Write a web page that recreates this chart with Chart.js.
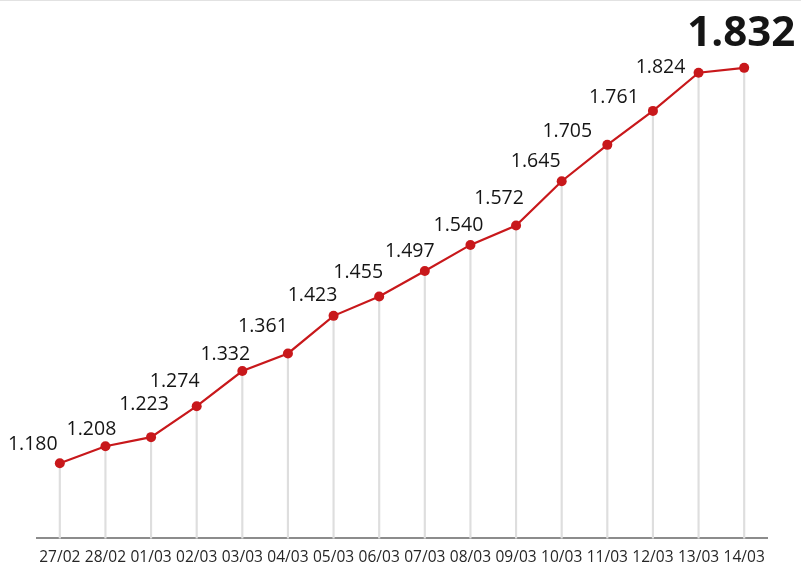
<!DOCTYPE html>
<html>
<head>
<meta charset="utf-8">
<script src="https://cdn.jsdelivr.net/npm/chart.js@4.4.1/dist/chart.umd.min.js"></script>
<style>
    html, body { margin: 0; padding: 0; background: #fff; }
    body { width: 801px; height: 565px; overflow: hidden; border-top: 1px solid #e2e2e2; box-sizing: border-box; }
    #chart { display: block; }
</style>
</head>
<body>
<canvas id="chart" width="801" height="564"></canvas>
<script>
// dados do gráfico
const dates = ['27/02', '28/02', '01/03', '02/03', '03/03', '04/03', '05/03', '06/03',
               '07/03', '08/03', '09/03', '10/03', '11/03', '12/03', '13/03', '14/03'];
const values = [1180, 1208, 1223, 1274, 1332, 1361, 1423, 1455,
                1497, 1540, 1572, 1645, 1705, 1761, 1824, 1832];

// deslocamento dos rótulos em relação ao ponto (px)
const labelDx = [-27, -14, -7, -22, -17, -25, -21, -21, -15, -12, -17, -26, -40, -39, -38, -3];
const labelDy = [-19, -17, -33, -25, -17, -27, -20, -24, -20, -19, -27, -20, -13, -13, -5, -34];

const RED = '#c8181b';
const FONT = '"Open Sans", "Noto Sans", sans-serif';

function fmt(v) {
    return (v / 1000).toFixed(3);
}

// rótulos de valor acima dos pontos
const valueLabels = {
    id: 'valueLabels',
    afterDatasetsDraw(chart) {
        const meta = chart.getDatasetMeta(0);
        const ctx = chart.ctx;
        ctx.save();
        ctx.textAlign = 'center';
        ctx.textBaseline = 'middle';
        ctx.fillStyle = '#151515';
        meta.data.forEach((pt, i) => {
            const last = i === meta.data.length - 1;
            ctx.font = last ? `bold 42px ${FONT}` : `19.5px ${FONT}`;
            ctx.fillText(fmt(values[i]), pt.x + labelDx[i], pt.y + labelDy[i]);
        });
        ctx.restore();
    }
};

new Chart(document.getElementById('chart'), {
    data: {
        labels: dates,
        datasets: [
            {
                type: 'line',
                data: values,
                borderColor: RED,
                borderWidth: 2.2,
                backgroundColor: RED,
                pointRadius: 5,
                pointBorderWidth: 0,
                pointHoverRadius: 5,
                tension: 0,
                order: 1,
                clip: false
            },
            {
                // linhas verticais até a base
                type: 'bar',
                data: values,
                backgroundColor: '#dedede',
                barThickness: 1.5,
                order: 2
            }
        ]
    },
    options: {
        responsive: false,
        animation: false,
        layout: { padding: { left: 37, right: 34, top: 0, bottom: -12 } },
        plugins: {
            legend: { display: false },
            tooltip: { enabled: false }
        },
        scales: {
            x: {
                offset: true,
                grid: { display: false, drawTicks: false },
                border: { color: '#8c8c8c', width: 2 },
                ticks: {
                    color: '#262626',
                    font: { family: FONT, size: 15.5 },
                    padding: 10,
                    maxRotation: 0,
                    autoSkip: false
                }
            },
            y: {
                display: false,
                min: 1056,
                max: 1934
            }
        }
    },
    plugins: [valueLabels]
});
</script>
</body>
</html>
